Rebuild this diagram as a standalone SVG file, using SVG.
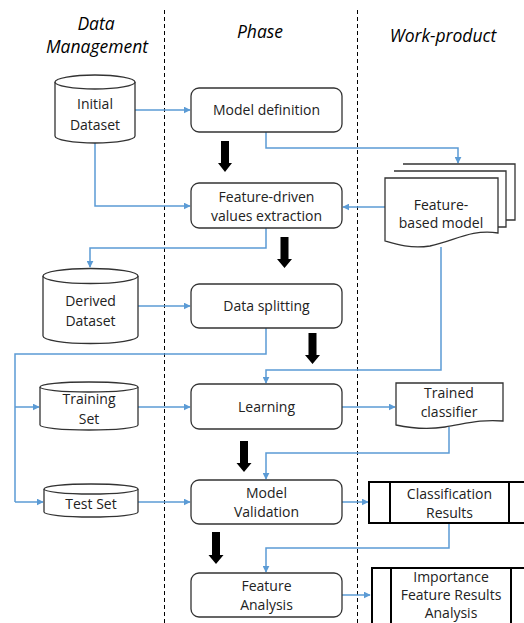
<svg xmlns="http://www.w3.org/2000/svg" width="524" height="623" viewBox="0 0 524 623">
<defs>
<marker id="ah" viewBox="0 0 10 10" refX="9" refY="5" markerWidth="7" markerHeight="7" markerUnits="userSpaceOnUse" orient="auto">
<path d="M0,0 L10,5 L0,10 z" fill="#5B9BD5"/>
</marker>
<style>
.hdr{font-family:"Open Sans","Liberation Sans",sans-serif;font-style:italic;font-size:17.5px;fill:#000;text-anchor:middle}
.t{font-family:"Open Sans","Liberation Sans",sans-serif;font-size:14px;fill:#222;text-anchor:middle}
.box{fill:#fff;stroke:#333;stroke-width:1.3}
.pr{fill:#fff;stroke:#000;stroke-width:2}
.c{fill:none;stroke:#5B9BD5;stroke-width:1.5}
.ca{fill:none;stroke:#5B9BD5;stroke-width:1.5;marker-end:url(#ah)}
.dash{stroke:#000;stroke-width:1;stroke-dasharray:4,3}
.big{fill:#000}
</style>
</defs>
<rect width="524" height="623" fill="#fff"/>
<g id="lanes">
<line class="dash" x1="164.5" y1="10" x2="164.5" y2="623"/>
<line class="dash" x1="357.5" y1="10" x2="357.5" y2="623"/>
<text class="hdr" x="96" y="30">Data</text>
<text class="hdr" x="97" y="53">Management</text>
<text class="hdr" x="260" y="38">Phase</text>
<text class="hdr" x="443" y="42">Work-product</text>
</g>
<g id="connectors">
<path class="ca" d="M135,110 H190"/>
<path class="ca" d="M266,132 V148 H458 V163"/>
<path class="ca" d="M95,143 V206 H190"/>
<path class="ca" d="M385,207 H343"/>
<path class="ca" d="M266,228 V248 H90 V267"/>
<path class="ca" d="M138,306 H190"/>
<path class="c" d="M266,328 V354 H15 V502"/>
<path class="ca" d="M15,407 H39"/>
<path class="ca" d="M15,502 H43"/>
<path class="ca" d="M441,247 V370 H266 V383"/>
<path class="ca" d="M138,407 H190"/>
<path class="ca" d="M342,407 H395"/>
<path class="ca" d="M449,427 V453 H266 V479"/>
<path class="ca" d="M138,502 H190"/>
<path class="ca" d="M342,502 H368"/>
<path class="ca" d="M449,523 V548 H266 V572"/>
<path class="ca" d="M342,595 H370"/>
<polygon class="big" points="221,141 229,141 229,163 232,163 225,172 218,163 221,163"/>
<polygon class="big" points="280.5,237 288.5,237 288.5,259 292,259 284.5,268 277,259 280.5,259"/>
<polygon class="big" points="308.5,333 316.5,333 316.5,355 320,355 312.5,364 305,355 308.5,355"/>
<polygon class="big" points="240,441 248,441 248,463 251.5,463 244,472 236.5,463 240,463"/>
<polygon class="big" points="212,532 220,532 220,555 223.5,555 216,564 208.5,555 212,555"/>
</g>
<g id="initial-dataset">
<path class="box" d="M55,82 A40,7 0 0 1 135,82 V136 A40,7 0 0 1 55,136 Z"/>
<path class="box" d="M55,82 A40,7 0 0 0 135,82" fill="none"/>
<text class="t" x="95" y="109">Initial</text>
<text class="t" x="95" y="130">Dataset</text>
</g>
<g id="model-definition">
<rect class="box" x="191" y="88" width="151" height="44" rx="8"/>
<text class="t" x="266.5" y="115">Model definition</text>
</g>
<g id="feature-extraction">
<rect class="box" x="191" y="183" width="151" height="45" rx="8"/>
<text class="t" x="266.5" y="202">Feature-driven</text>
<text class="t" x="266.5" y="221">values extraction</text>
</g>
<g id="feature-based-model">
<path class="box" d="M403,164 H515 V220 H506"/>
<path class="box" d="M394,171 H506 V227 H498"/>
<path class="box" d="M385,178 H498 V233 C470,229 455,241 430,246 C410,249 395,244 385,241 Z"/>
<text class="t" x="441" y="210">Feature-</text>
<text class="t" x="441" y="228">based model</text>
</g>
<g id="derived-dataset">
<path class="box" d="M43,276 A47.5,7.5 0 0 1 138,276 V336 A47.5,7.5 0 0 1 43,336 Z"/>
<path class="box" d="M43,276 A47.5,7.5 0 0 0 138,276" fill="none"/>
<text class="t" x="90.5" y="306">Derived</text>
<text class="t" x="90.5" y="326">Dataset</text>
</g>
<g id="data-splitting">
<rect class="box" x="191" y="284" width="151" height="44" rx="8"/>
<text class="t" x="266.5" y="311">Data splitting</text>
</g>
<g id="training-set">
<path class="box" d="M40,387 A49,5 0 0 1 138,387 V425 A49,5 0 0 1 40,425 Z"/>
<path class="box" d="M40,387 A49,5 0 0 0 138,387" fill="none"/>
<text class="t" x="89" y="404">Training</text>
<text class="t" x="89" y="424">Set</text>
</g>
<g id="learning">
<rect class="box" x="191" y="384" width="151" height="45" rx="8"/>
<text class="t" x="266.5" y="412">Learning</text>
</g>
<g id="trained-classifier">
<path class="box" d="M396,383 H503 V421 C480,419 465,424 445,427 C425,430 410,428 396,425 Z"/>
<text class="t" x="449" y="398">Trained</text>
<text class="t" x="449" y="417">classifier</text>
</g>
<g id="test-set">
<path class="box" d="M44,489 A47,5 0 0 1 138,489 V512 A47,5 0 0 1 44,512 Z"/>
<path class="box" d="M44,489 A47,5 0 0 0 138,489" fill="none"/>
<text class="t" x="91" y="509">Test Set</text>
</g>
<g id="model-validation">
<rect class="box" x="191" y="480" width="151" height="44" rx="8"/>
<text class="t" x="266.5" y="498">Model</text>
<text class="t" x="266.5" y="517">Validation</text>
</g>
<g id="classification-results">
<rect class="pr" x="369" y="482" width="160" height="41"/>
<line class="pr" x1="390" y1="482" x2="390" y2="523"/>
<line class="pr" x1="509" y1="482" x2="509" y2="523"/>
<text class="t" x="449.5" y="499">Classification</text>
<text class="t" x="449.5" y="518">Results</text>
</g>
<g id="feature-analysis">
<rect class="box" x="191" y="573" width="151" height="44" rx="8"/>
<text class="t" x="266.5" y="591">Feature</text>
<text class="t" x="266.5" y="610">Analysis</text>
</g>
<g id="importance-results">
<rect class="pr" x="372" y="568" width="160" height="60"/>
<line class="pr" x1="391" y1="568" x2="391" y2="623"/>
<line class="pr" x1="511" y1="568" x2="511" y2="623"/>
<text class="t" x="451" y="582">Importance</text>
<text class="t" x="451" y="600">Feature Results</text>
<text class="t" x="451" y="618">Analysis</text>
</g>
</svg>
